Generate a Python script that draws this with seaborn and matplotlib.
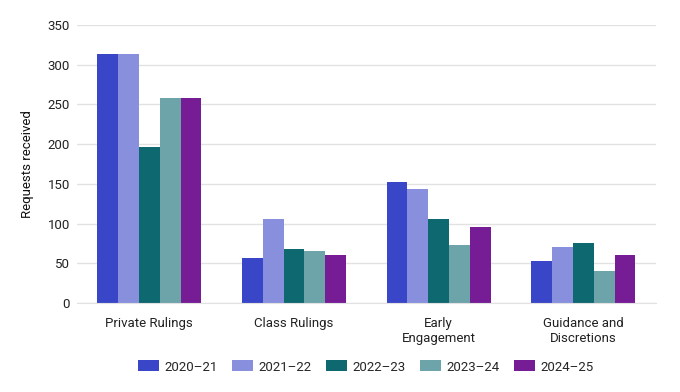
import pandas as pd
import seaborn as sns
import matplotlib.pyplot as plt

categories = ['Private Rulings', 'Class Rulings', 'Early\nEngagement', 'Guidance and\nDiscretions']
years = ['2020–21', '2021–22', '2022–23', '2023–24', '2024–25']
v2020 = [314, 57, 153, 53]
v2021 = [314, 106, 143, 70]
v2022 = [196, 68, 106, 75]
v2023 = [258, 65, 73, 40]
v2024 = [258, 61, 96, 60]
colors = ['#3A46C8', '#8890DE', '#0E6870', '#6DA4AA', '#761D96']

rows = []
for yr, vals in zip(years, [v2020, v2021, v2022, v2023, v2024]):
    for c, v in zip(categories, vals):
        rows.append({'Category': c, 'Year': yr, 'Requests': v})
df = pd.DataFrame(rows)

sns.set_style('white')
plt.rcParams['font.family'] = ['Roboto', 'DejaVu Sans']

fig = plt.figure(figsize=(6.8, 3.92), dpi=100)
ax = fig.add_axes([0.1132, 0.227, 0.851, 0.709])

sns.barplot(data=df, x='Category', y='Requests', hue='Year', palette=colors,
            width=0.72, gap=0, ax=ax, legend=True, linewidth=0.6,
            edgecolor='none', saturation=1)

ax.set_ylim(0, 350)
ax.set_yticks(range(0, 351, 50))
ax.set_xlim(-0.5, 3.5)
ax.yaxis.grid(True, color='#E2E2E2', linewidth=1)
ax.set_axisbelow(True)
for s in ['top', 'right', 'left']:
    ax.spines[s].set_visible(False)
ax.spines['bottom'].set_color('#E2E2E2')
ax.tick_params(axis='y', length=0, labelsize=9.5, labelcolor='#222222', pad=5)
ax.tick_params(axis='x', length=4, color='#CCCCCC', labelsize=9.5, labelcolor='#222222', pad=6)
ax.set_xlabel('')
ax.set_ylabel('Requests received', fontsize=9.5, color='#111111', labelpad=10)

h, l = ax.get_legend_handles_labels()
ax.get_legend().remove()
fig.legend(h, l, loc='center', bbox_to_anchor=(366 / 680, 1 - 367 / 392),
           ncol=5, frameon=False, fontsize=9.5, handlelength=1.6, handleheight=0.9,
           columnspacing=1.1, handletextpad=0.4)

fig.savefig('out.png', dpi=100)
